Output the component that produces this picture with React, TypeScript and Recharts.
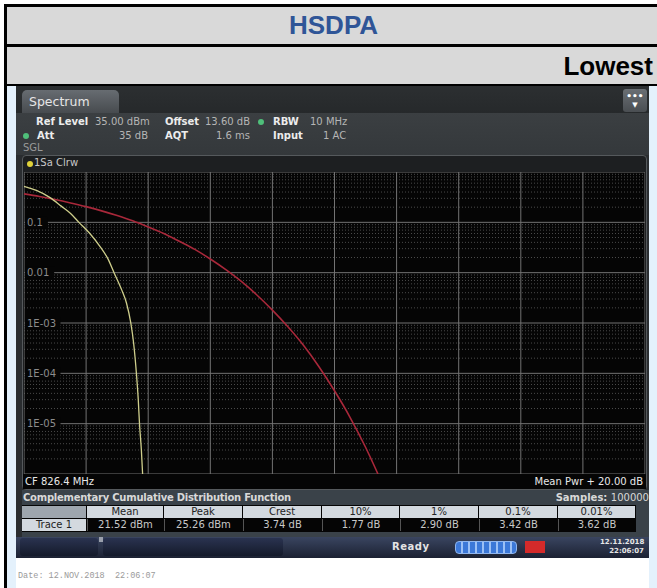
import React from "react";
import { Line, LineChart, ReferenceLine, XAxis, YAxis } from "recharts";

// CCDF trace (x = dB above mean power, y = probability)
const TRACE_DB = [0, 0.4, 0.84, 1.2, 1.5, 1.77, 2.1, 2.45, 2.7, 2.9, 3.15, 3.3, 3.44, 3.53, 3.62, 3.68, 3.72, 3.78, 3.82];
const TRACE_P = [0.52, 0.43, 0.31, 0.21, 0.15, 0.1, 0.062, 0.033, 0.019, 0.01, 0.0045, 0.0025, 0.001, 0.0004, 0.0001, 0.00003, 0.00001, 0.000003, 0.000001];

// reference (AWGN) curve in red
const GAUSS_DB = [0, 0.5, 1, 1.5, 2, 2.5, 3, 3.5, 4, 4.5, 5, 5.5, 6, 6.5, 7, 7.5, 8, 8.5, 9, 9.5, 10, 10.5, 11, 11.4];
const GAUSS_P = [0.368, 0.326, 0.284, 0.243, 0.205, 0.169, 0.136, 0.107, 0.081, 0.06, 0.042, 0.029, 0.0187, 0.0115, 0.0067, 0.0036, 0.0018, 0.00084, 0.00036, 0.000135, 0.000045, 0.0000134, 0.0000034, 0.000001];

const X_TICKS = [0, 2, 4, 6, 8, 10, 12, 14, 16, 18, 20];
const Y_MAJOR = [1, 0.1, 0.01, 0.001, 0.0001, 0.00001, 0.000001];
const Y_MAJOR_LABELS = ["", "0.1", "0.01", "1E-03", "1E-04", "1E-05", ""];

const TABLE_HEADERS = ["Mean", "Peak", "Crest", "10%", "1%", "0.1%", "0.01%"];
const TABLE_VALUES = ["21.52 dBm", "25.26 dBm", "3.74 dB", "1.77 dB", "2.90 dB", "3.42 dB", "3.62 dB"];
const COL_EDGES = [22, 87, 164, 243, 322, 400, 479, 558, 636];

const traceData = TRACE_DB.map((db, i) => ({ db, p: TRACE_P[i] }));
const gaussData = GAUSS_DB.map((db, i) => ({ db, p: GAUSS_P[i] }));

// log minor gridlines 2..9 in each decade
const minorValues: number[] = [];
Y_MAJOR.slice(1).forEach((d) => {
  for (let k = 2; k <= 9; k++) minorValues.push(d * k);
});

const SCREEN_FONT = "'DejaVu Sans', Verdana, sans-serif";

// grid label drawn inside the plot, on a black patch that cuts the line
function GridLabel(props: any) {
  const { viewBox, text } = props;
  if (!text || !viewBox) return null;
  const x = viewBox.x + 3;
  const y = viewBox.y;
  return (
    <g>
      <rect x={x - 2} y={y - 6} width={text.length * 6.3 + 4} height={12} fill="#050505" />
      <text x={x} y={y} dy={3.5} fill="#8c8c8c" fontSize={10} fontFamily={SCREEN_FONT}>
        {text}
      </text>
    </g>
  );
}

const abs = (l: number, t: number, w: number, h: number, extra: React.CSSProperties = {}): React.CSSProperties => ({
  position: "absolute",
  left: l,
  top: t,
  width: w,
  height: h,
  ...extra,
});

export default function App() {
  return (
    <div style={{ position: "fixed", left: 0, top: 0, width: 657, height: 588, background: "#ffffff", overflow: "hidden", fontFamily: SCREEN_FONT }}>
      {/* light blue page decoration */}
      <div style={abs(7, 86, 9, 502, { background: "#e4f1fc" })} />
      <div style={abs(649, 86, 8, 502, { background: "#e4f1fc" })} />

      {/* document table header */}
      <div style={abs(4, 4, 653, 3, { background: "#000" })} />
      <div style={abs(4, 4, 3, 584, { background: "#000" })} />
      <div style={abs(7, 7, 650, 37, { background: "#d9d9d9" })} />
      <div style={abs(7, 44, 650, 3, { background: "#000" })} />
      <div style={abs(7, 47, 650, 37, { background: "#d9d9d9" })} />
      <div style={abs(7, 84, 650, 2, { background: "#000" })} />
      <div style={abs(289, 8, 100, 34, { fontFamily: "'Liberation Sans', Arial, sans-serif", fontWeight: 700, fontSize: 26, color: "#2f5597", lineHeight: "34px" })}>
        HSDPA
      </div>
      <div style={abs(452, 49, 201, 34, { fontFamily: "'Liberation Sans', Arial, sans-serif", fontWeight: 700, fontSize: 26, color: "#000", lineHeight: "34px", textAlign: "right" })}>
        Lowest
      </div>

      {/* instrument screen */}
      <div style={abs(16, 86, 633, 472, { background: "#2a2d30" })} />
      <div style={abs(16, 86, 633, 27, { background: "linear-gradient(#2c2f31, #26292b)" })} />
      <div style={abs(22, 90, 97, 23, { background: "linear-gradient(#676c71, #474b4f)", borderRadius: "5px 5px 0 0", color: "#e6e6e6", fontSize: 12.5, lineHeight: "24px", paddingLeft: 7, boxSizing: "border-box" })}>
        Spectrum
      </div>
      <div style={abs(623, 89, 24, 23, { background: "linear-gradient(#6a6f74, #4a4e52)", borderRadius: 3, color: "#fff", fontSize: 9, lineHeight: "9px", textAlign: "center", fontWeight: 700 })}>
        <div style={{ marginTop: 3 }}>•••</div>
        <div style={{ fontSize: 7 }}>▼</div>
      </div>
      <div style={abs(16, 113, 633, 42, { background: "linear-gradient(#3b3f42, #34383b)" })} />

      {/* settings text */}
      <div style={{ position: "absolute", left: 0, top: 0, fontSize: 10, color: "#b5b5b5" }}>
        <span style={abs(36, 116, 70, 12, { color: "#ececec", fontWeight: 700 })}>Ref Level</span>
        <span style={abs(95, 116, 70, 12)}>35.00 dBm</span>
        <span style={abs(165, 116, 50, 12, { color: "#ececec", fontWeight: 700 })}>Offset</span>
        <span style={abs(205, 116, 60, 12)}>13.60 dB</span>
        <span style={abs(258, 119, 6, 6, { background: "#4fbf7a", borderRadius: 3 })} />
        <span style={abs(273, 116, 40, 12, { color: "#ececec", fontWeight: 700 })}>RBW</span>
        <span style={abs(310, 116, 60, 12)}>10 MHz</span>

        <span style={abs(23, 133, 6, 6, { background: "#4fbf7a", borderRadius: 3 })} />
        <span style={abs(37, 130, 40, 12, { color: "#ececec", fontWeight: 700 })}>Att</span>
        <span style={abs(98, 130, 50, 12, { textAlign: "right" })}>35 dB</span>
        <span style={abs(165, 130, 40, 12, { color: "#ececec", fontWeight: 700 })}>AQT</span>
        <span style={abs(200, 130, 50, 12, { textAlign: "right" })}>1.6 ms</span>
        <span style={abs(273, 130, 40, 12, { color: "#ececec", fontWeight: 700 })}>Input</span>
        <span style={abs(323, 130, 40, 12)}>1 AC</span>

        <span style={abs(23, 142, 40, 12, { color: "#9a9a9a" })}>SGL</span>
      </div>

      {/* diagram frame */}
      <div style={abs(22, 155, 625, 335, { background: "#1d1f21", border: "1px solid #55595c", borderRadius: 4, boxSizing: "border-box" })} />
      <span style={abs(27, 161, 6, 6, { background: "#e0d23a", borderRadius: 3 })} />
      <span style={abs(34, 157, 80, 12, { fontSize: 10, color: "#c8c8c8" })}>1Sa Clrw</span>
      <div style={abs(24, 172, 621, 302, { background: "#050505" })} />

      <div style={abs(24, 172, 621, 302)}>
        <LineChart width={621} height={302} margin={{ top: 0, right: 0, bottom: 0, left: 0 }}>
          <XAxis dataKey="db" type="number" domain={[0, 20]} ticks={X_TICKS} hide allowDataOverflow />
          <YAxis dataKey="p" type="number" scale="log" domain={[0.000001, 1]} allowDataOverflow hide />
          {minorValues.map((v) => (
            <ReferenceLine key={"m" + v} y={v} stroke="#4a4a4a" strokeDasharray="1 2" ifOverflow="extendDomain" />
          ))}
          {X_TICKS.map((v) => (
            <ReferenceLine key={"x" + v} x={v} stroke="#737373" ifOverflow="extendDomain" />
          ))}
          {Y_MAJOR.map((v, i) => (
            <ReferenceLine
              key={"y" + v}
              y={v}
              stroke="#737373"
              ifOverflow="extendDomain"
              label={<GridLabel text={Y_MAJOR_LABELS[i]} />}
            />
          ))}
          <Line data={gaussData} dataKey="p" type="monotone" stroke="#a8283a" strokeWidth={1.6} dot={false} isAnimationActive={false} />
          <Line data={traceData} dataKey="p" type="monotone" stroke="#cfcf8c" strokeWidth={1.3} dot={false} isAnimationActive={false} />
        </LineChart>
      </div>

      {/* CF bar */}
      <div style={abs(23, 474, 623, 15, { background: "#050505" })} />
      <span style={abs(25, 476, 120, 12, { fontSize: 10, color: "#e8e8e8" })}>CF 826.4 MHz</span>
      <span style={abs(480, 476, 163, 12, { fontSize: 10, color: "#e8e8e8", textAlign: "right" })}>Mean Pwr + 20.00 dB</span>

      {/* CCDF result table */}
      <div style={abs(22, 490, 627, 47, { background: "#3a4249" })} />
      <span style={abs(23, 492, 320, 13, { fontSize: 10, fontWeight: 700, color: "#d8d8d8", letterSpacing: -0.25 })}>
        Complementary Cumulative Distribution Function
      </span>
      <span style={abs(520, 492, 129, 13, { fontSize: 10, fontWeight: 700, color: "#d8d8d8", textAlign: "right", whiteSpace: "nowrap" })}>
        Samples: <span style={{ fontWeight: 400 }}>100000</span>
      </span>
      <div style={abs(22, 505, 614, 27, { background: "#050505" })} />
      <div style={abs(COL_EDGES[0], 506, COL_EDGES[1] - COL_EDGES[0] - 1, 12, { background: "#9ea6ae" })} />
      {TABLE_HEADERS.map((h, i) => (
        <div
          key={h}
          style={abs(COL_EDGES[i + 1], 506, COL_EDGES[i + 2] - COL_EDGES[i + 1] - 1, 12, {
            background: "#d3d9df",
            color: "#222",
            fontSize: 10,
            lineHeight: "12px",
            textAlign: "center",
          })}
        >
          {h}
        </div>
      ))}
      <div style={abs(COL_EDGES[0], 519, COL_EDGES[1] - COL_EDGES[0] - 1, 12, { background: "#d3d9df", color: "#222", fontSize: 10, lineHeight: "12px", textAlign: "center" })}>
        Trace 1
      </div>
      {TABLE_VALUES.map((v, i) => (
        <div
          key={v + i}
          style={abs(COL_EDGES[i + 1], 519, COL_EDGES[i + 2] - COL_EDGES[i + 1] - 1, 12, {
            background: "#050505",
            color: "#c8c8c8",
            fontSize: 10,
            lineHeight: "12px",
            textAlign: "center",
            borderLeft: "1px solid #555",
            boxSizing: "border-box",
          })}
        >
          {v}
        </div>
      ))}

      {/* status bar */}
      <div style={abs(16, 537, 633, 21, { background: "linear-gradient(#3a4560, #1b2132)" })} />
      <div style={abs(20, 538, 78, 18, { background: "linear-gradient(#2a3350, #141a2a)", borderRadius: 3 })} />
      <div style={abs(103, 538, 180, 18, { background: "linear-gradient(#2a3350, #141a2a)", borderRadius: 3 })} />
      <span style={abs(99, 537, 4, 5, { background: "#9aa0ac" })} />
      <span style={abs(392, 541, 50, 12, { fontSize: 10, fontWeight: 700, color: "#e4e4e4", letterSpacing: 0.5 })}>Ready</span>
      <div style={abs(455, 541, 62, 13, { background: "repeating-linear-gradient(90deg, #3c78d8 0 5px, #9cc0f5 5px 7px)", border: "1px solid #8fb5ee", borderRadius: 4, boxSizing: "border-box" })} />
      <div style={abs(525, 541, 20, 12, { background: "#d42a2a" })} />
      <span style={abs(600, 538, 44, 9, { fontSize: 7, fontWeight: 700, color: "#e6e6e6", textAlign: "right" })}>12.11.2018</span>
      <span style={abs(600, 547, 44, 9, { fontSize: 7, fontWeight: 700, color: "#e6e6e6", textAlign: "right" })}>22:06:07</span>

      {/* image footer */}
      <span style={abs(18, 571, 200, 12, { fontFamily: "'Liberation Mono', monospace", fontSize: 8.5, color: "#9a9a9a", whiteSpace: "pre" })}>
        Date: 12.NOV.2018  22:06:07
      </span>
    </div>
  );
}
